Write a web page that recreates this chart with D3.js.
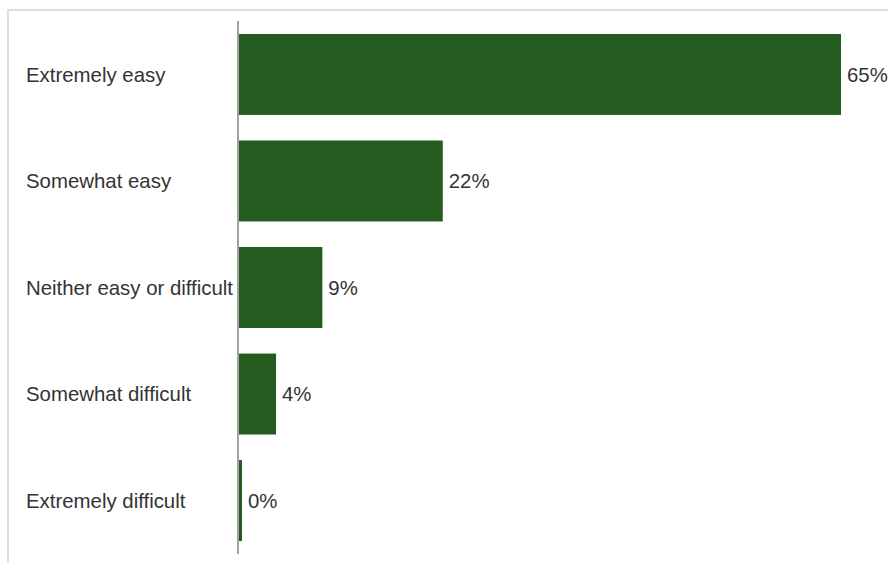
<!DOCTYPE html>
<html>
<head>
<meta charset="utf-8">
<script src="https://cdn.jsdelivr.net/npm/d3@7"></script>
<style>
  html, body { margin: 0; padding: 0; background: #fff; }
  svg { display: block; }
</style>
</head>
<body>
<svg id="chart" width="888" height="563"></svg>
<script>
// Survey responses: how easy was it?
const categories = [
  "Extremely easy",
  "Somewhat easy",
  "Neither easy or difficult",
  "Somewhat difficult",
  "Extremely difficult"
];
const values = [65, 22, 9, 4, 0];
const valueLabels = ["65%", "22%", "9%", "4%", "0%"];

const svg = d3.select("#chart");
const W = 888, H = 563;
const FONT = "Liberation Sans, Arial, sans-serif";
const FONT_SIZE = 20.4;

// Card frame
svg.append("rect")
  .attr("x", 8).attr("y", 10)
  .attr("width", W + 20).attr("height", H + 20)
  .attr("fill", "#fff")
  .attr("stroke", "#d6d6d6")
  .attr("stroke-width", 1.6);

const x0 = 239;
const x = d3.scaleLinear().domain([0, 65]).range([x0, 841]);
const y = d3.scaleBand()
  .domain(categories)
  .range([21, 554])
  .paddingInner(0.24)
  .paddingOuter(0.122);

const data = categories.map((c, i) => ({ cat: c, v: values[i], label: valueLabels[i] }));

// Bars (a tiny stub keeps zero-valued rows visible)
const minStub = 3;
svg.append("g").selectAll("rect")
  .data(data)
  .join("rect")
  .attr("x", x0)
  .attr("y", d => y(d.cat))
  .attr("width", d => Math.max(x(d.v) - x0, minStub))
  .attr("height", y.bandwidth())
  .attr("fill", "#245c1f");

// Value labels
svg.append("g").selectAll("text")
  .data(data)
  .join("text")
  .attr("x", d => x0 + Math.max(x(d.v) - x0, minStub) + 6)
  .attr("y", d => y(d.cat) + y.bandwidth() / 2)
  .attr("dy", "0.35em")
  .attr("font-family", FONT)
  .attr("font-size", FONT_SIZE)
  .attr("fill", "#333")
  .text(d => d.label);

// Category labels
svg.append("g").selectAll("text")
  .data(data)
  .join("text")
  .attr("x", 26)
  .attr("y", d => y(d.cat) + y.bandwidth() / 2)
  .attr("dy", "0.35em")
  .attr("font-family", FONT)
  .attr("font-size", FONT_SIZE)
  .attr("fill", "#333")
  .text(d => d.cat);

// Baseline axis
svg.append("line")
  .attr("x1", 238).attr("x2", 238)
  .attr("y1", 21).attr("y2", 554)
  .attr("stroke", "#8a8a8a")
  .attr("stroke-width", 1.6);
</script>
</body>
</html>
